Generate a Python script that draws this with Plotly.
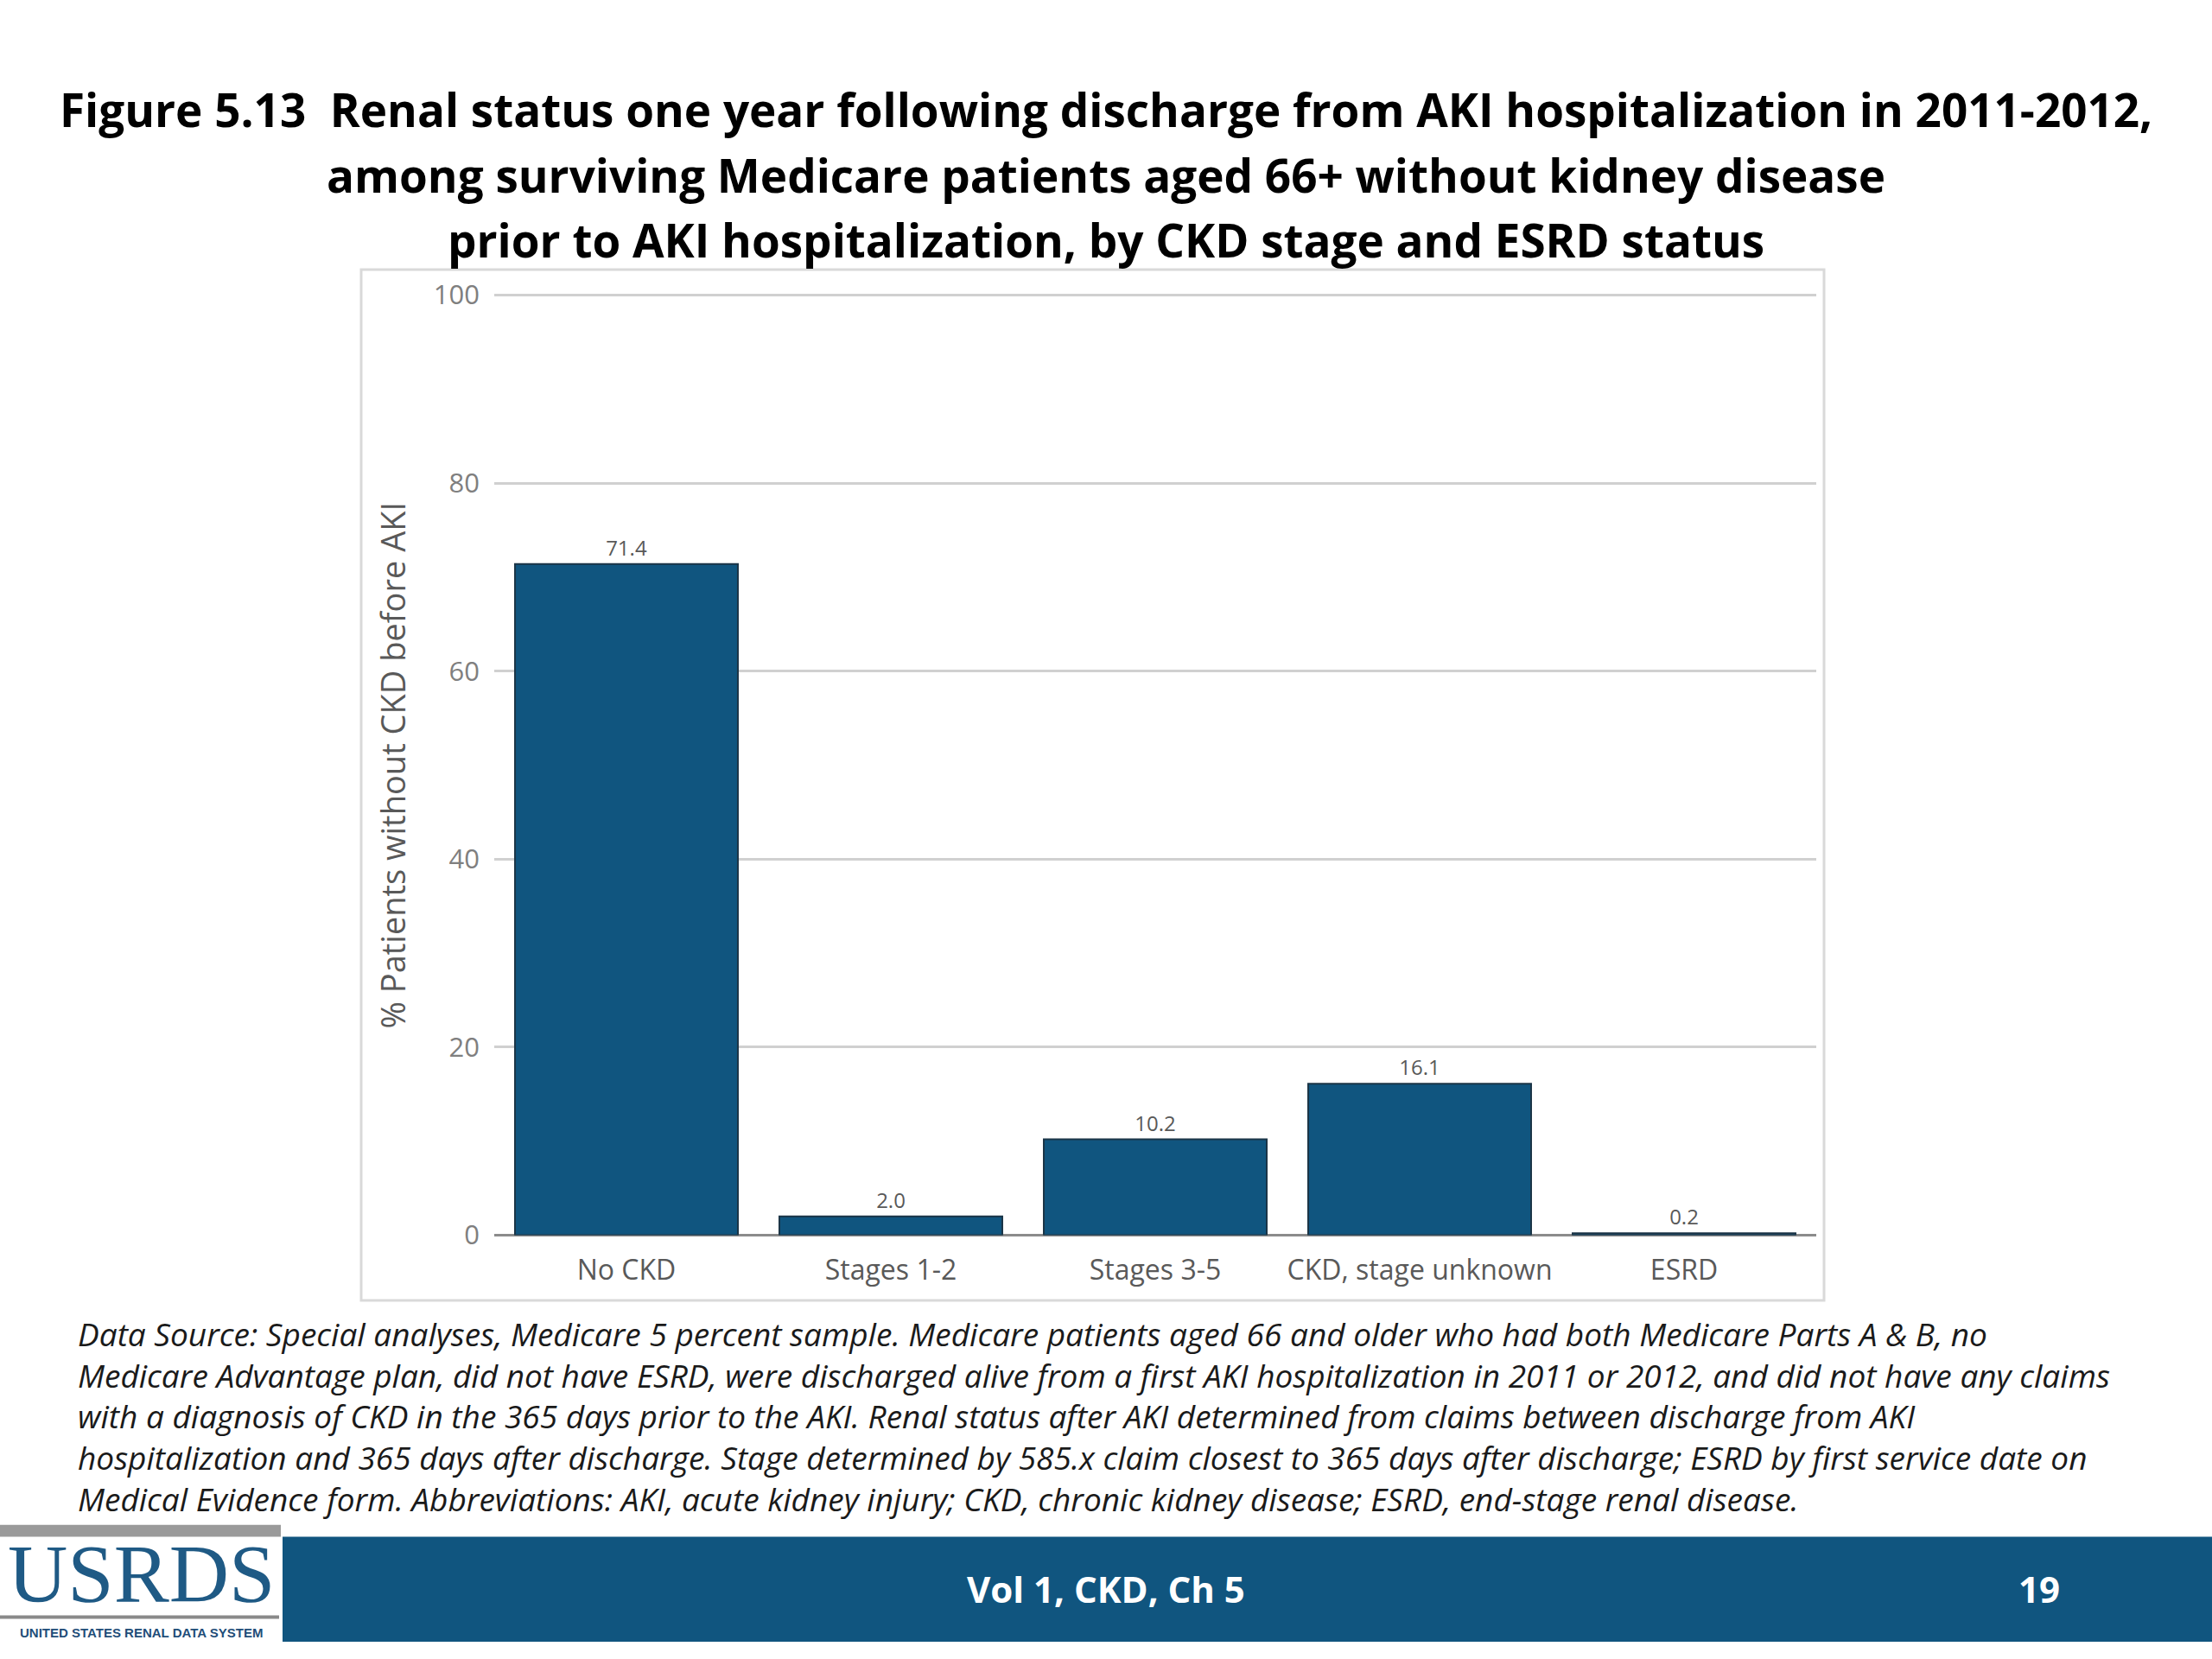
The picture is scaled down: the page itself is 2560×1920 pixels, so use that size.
import plotly.graph_objects as go

categories = ["No CKD", "Stages 1-2", "Stages 3-5", "CKD, stage unknown", "ESRD"]
values = [71.4, 2.0, 10.2, 16.1, 0.2]
value_labels = ["71.4", "2.0", "10.2", "16.1", "0.2"]
y_ticks = [0, 20, 40, 60, 80, 100]

title_lines = [
    "Figure 5.13  Renal status one year following discharge from AKI hospitalization in 2011-2012,",
    "among surviving Medicare patients aged 66+ without kidney disease",
    "prior to AKI hospitalization, by CKD stage and ESRD status",
]
footnote_lines = [
    "Data Source: Special analyses, Medicare 5 percent sample. Medicare patients aged 66 and older who had both Medicare Parts A & B, no",
    "Medicare Advantage plan, did not have ESRD, were discharged alive from a first AKI hospitalization in 2011 or 2012, and did not have any claims",
    "with a diagnosis of CKD in the 365 days prior to the AKI. Renal status after AKI determined from claims between discharge from AKI",
    "hospitalization and 365 days after discharge. Stage determined by 585.x claim closest to 365 days after discharge; ESRD by first service date on",
    "Medical Evidence form. Abbreviations: AKI, acute kidney injury; CKD, chronic kidney disease; ESRD, end-stage renal disease.",
]

W, H = 2560, 1920
BLUE = "#10557F"
GRAY = "#595959"


def px(x):
    return x / W


def py(y):
    return 1 - y / H


fig = go.Figure()
fig.add_trace(go.Bar(
    x=categories, y=values,
    marker=dict(color=BLUE, line=dict(color="#1b3547", width=2)),
    text=value_labels, textposition="outside", cliponaxis=False,
    textfont=dict(family="Open Sans", size=24, color=GRAY),
))

fig.update_layout(
    width=W, height=H,
    margin=dict(l=0, r=0, t=0, b=0),
    paper_bgcolor="white", plot_bgcolor="white",
    showlegend=False,
    bargap=0.157,
    font=dict(family="Open Sans", color=GRAY),
    xaxis=dict(
        domain=[px(572), px(2102)],
        tickfont=dict(family="Open Sans", size=32, color=GRAY),
        showgrid=False, showline=False, ticks="",
        ticklabelstandoff=18,
    ),
    yaxis=dict(
        domain=[py(1440), py(325.6)],
        range=[0, 100.4], tickvals=y_ticks,
        tickfont=dict(family="Open Sans", size=31, color="#7f7f7f"),
        showgrid=True, gridcolor="#D0D0D0", gridwidth=3,
        zeroline=True, zerolinecolor="#8c8c8c", zerolinewidth=3,
        showline=False, ticks="", ticklabelstandoff=16,
    ),
)

shapes = [
    # chart frame
    dict(type="rect", xref="paper", yref="paper", x0=px(418), x1=px(2111), y0=py(1517), y1=py(300),
         line=dict(color="#D9D9D9", width=3), fillcolor="rgba(0,0,0,0)", layer="below"),
    # footer bar
    dict(type="rect", xref="paper", yref="paper", x0=px(327), x1=1, y0=0, y1=py(1796),
         line=dict(width=0), fillcolor=BLUE),
    # logo top gray band
    dict(type="rect", xref="paper", yref="paper", x0=0, x1=px(325), y0=py(1796), y1=py(1782),
         line=dict(width=0), fillcolor="#9a9a9a"),
    # logo underline
    dict(type="rect", xref="paper", yref="paper", x0=0, x1=px(323), y0=py(1893), y1=py(1889),
         line=dict(width=0), fillcolor="#8a8a8a"),
]
fig.update_layout(shapes=shapes)

ann = []
title_y = [111, 188, 265]
for line, yy in zip(title_lines, title_y):
    ann.append(dict(text=line, xref="paper", yref="paper", x=0.5, y=py(yy), xanchor="center", yanchor="middle",
                    showarrow=False, font=dict(family="Open Sans", size=53, color="black", weight="bold")))

ann.append(dict(text="% Patients without CKD before AKI", xref="paper", yref="paper", x=px(454), y=py(885),
                xanchor="center", yanchor="middle", textangle=-90, showarrow=False,
                font=dict(family="Open Sans", size=38, color=GRAY)))

foot_y = [1556, 1605, 1653, 1702, 1751]
for line, yy in zip(footnote_lines, foot_y):
    ann.append(dict(text="<i>" + line + "</i>", xref="paper", yref="paper", x=px(88), y=py(yy),
                    xanchor="left", yanchor="middle", showarrow=False,
                    font=dict(family="Open Sans", size=37, color="#1a1a1a")))

ann.append(dict(text="Vol 1, CKD, Ch 5", xref="paper", yref="paper", x=0.5, y=py(1857), xanchor="center",
                yanchor="middle", showarrow=False,
                font=dict(family="Open Sans", size=42, color="white", weight="bold")))
ann.append(dict(text="19", xref="paper", yref="paper", x=px(2360), y=py(1857), xanchor="center",
                yanchor="middle", showarrow=False,
                font=dict(family="Open Sans", size=42, color="white", weight="bold")))
ann.append(dict(text="USRDS", xref="paper", yref="paper", x=px(163), y=py(1840), xanchor="center",
                yanchor="middle", showarrow=False,
                font=dict(family="Liberation Serif", size=96, color="#1F5A85")))
ann.append(dict(text="UNITED STATES RENAL DATA SYSTEM", xref="paper", yref="paper", x=px(163), y=py(1909),
                xanchor="center", yanchor="middle", showarrow=False,
                font=dict(family="Liberation Sans Narrow, Liberation Sans", size=15, color="#1F4E79", weight="bold")))
fig.update_layout(annotations=ann)

fig.write_html("out.html", post_script="document.body.style.margin='0';", config={"displayModeBar": False})
